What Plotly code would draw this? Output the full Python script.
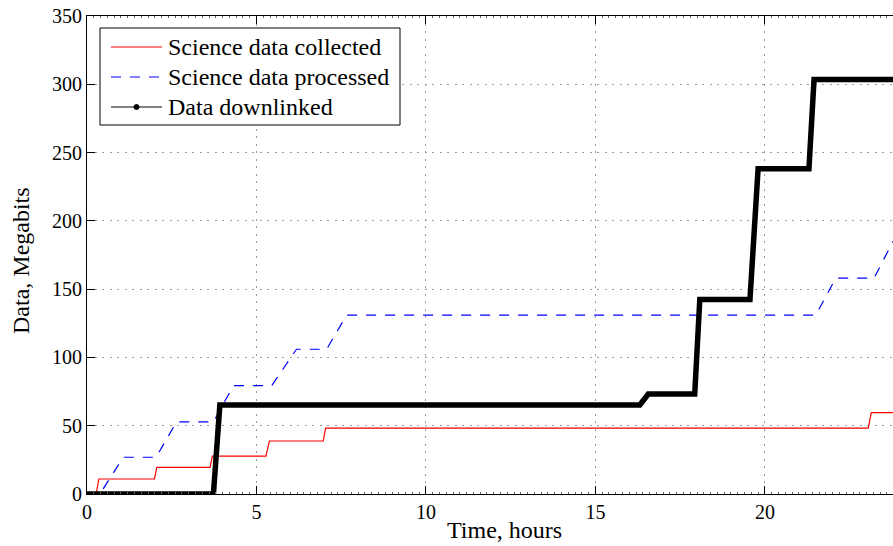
import plotly.graph_objects as go

# Time axis (hours) and cumulative data volumes (Megabits)
t_collected = [0, 0.27, 0.35, 1.99, 2.06, 3.63, 3.70, 5.28, 5.38, 6.97, 7.04, 23.05, 23.14, 23.78]
v_collected = [0, 0, 11, 11, 19.5, 19.5, 27.8, 27.8, 38.8, 38.8, 48.2, 48.2, 59.6, 59.6]

t_processed = [0, 0.38, 1.07, 2.04, 2.64, 3.73, 4.32, 5.45, 6.18, 7.07, 7.66, 21.50, 22.09, 23.22, 23.78]
v_processed = [0, 0, 26.9, 26.9, 52.8, 52.8, 79.3, 79.3, 106, 106, 131, 131, 158, 158, 185]

t_downlinked = [0, 3.73, 3.92, 16.31, 16.56, 17.93, 18.08, 19.56, 19.80, 21.30, 21.45, 23.78]
v_downlinked = [0, 0, 65.2, 65.2, 73.2, 73.2, 142.5, 142.5, 238.2, 238.2, 303.5, 303.5]

series_names = ["Science data collected", "Science data processed", "Data downlinked"]

x_ticks = [0, 5, 10, 15, 20]
y_ticks = [0, 50, 100, 150, 200, 250, 300, 350]

FONT = "Liberation Serif"
W, H = 893, 546
L, R, T, B = 87, 0, 16, 52


def px_x(p):
    """Pixel column -> paper x."""
    return (p - L) / (W - L - R)


def px_y(p):
    """Pixel row -> paper y."""
    return (H - B - p) / (H - T - B)


styles = [
    dict(color="#ff0000", width=1.2, dash="solid"),
    dict(color="#0000ff", width=1.2, dash="10px,9px"),
    dict(color="#000000", width=5.5, dash="solid"),
]

fig = go.Figure()
for name, xs, ys, st in zip(series_names,
                            [t_collected, t_processed, t_downlinked],
                            [v_collected, v_processed, v_downlinked],
                            styles):
    fig.add_trace(go.Scatter(x=xs, y=ys, mode="lines", name=name,
                             showlegend=False, line=st))

grid = dict(showgrid=True, gridcolor="#9a9a9a", gridwidth=1, griddash="2px,5.5px")

fig.update_xaxes(
    range=[0, 23.78], tickvals=x_ticks, ticktext=[str(v) for v in x_ticks],
    ticks="inside", ticklen=8, tickcolor="black",
    showline=True, linecolor="black", linewidth=1, mirror="ticks",
    zeroline=False, tickfont=dict(family=FONT, size=20, color="black"),
    minor=dict(ticks="inside", ticklen=2, dtick=0.2, tickcolor="#666666", showgrid=False),
    **grid,
)
fig.update_yaxes(
    range=[0, 350], tickvals=y_ticks, ticktext=[str(v) for v in y_ticks],
    ticks="inside", ticklen=8, tickcolor="black",
    showline=True, linecolor="black", linewidth=1,
    zeroline=False, tickfont=dict(family=FONT, size=20, color="black"),
    **grid,
)

# Legend box drawn in paper coordinates
box = dict(x0=100, x1=400, y0=28, y1=125)
row_y = [47, 77, 107]
key_x0, key_x1, text_x = 111, 162, 166

shapes = [dict(type="rect", xref="paper", yref="paper",
               x0=px_x(box["x0"]), x1=px_x(box["x1"]),
               y0=px_y(box["y1"]), y1=px_y(box["y0"]),
               line=dict(color="black", width=1), fillcolor="white", layer="above")]
annotations = []
for name, ry, st in zip(series_names, row_y, styles):
    shapes.append(dict(type="line", xref="paper", yref="paper",
                       x0=px_x(key_x0), x1=px_x(key_x1), y0=px_y(ry), y1=px_y(ry),
                       line=dict(color=st["color"], width=1.2 if st["width"] < 2 else 1,
                                 dash=st["dash"]),
                       layer="above"))
    annotations.append(dict(text=name, xref="paper", yref="paper",
                            x=px_x(text_x), y=px_y(ry), xanchor="left", yanchor="middle",
                            showarrow=False,
                            font=dict(family=FONT, size=24, color="black")))
# dot marker on the downlink key
cx = (key_x0 + key_x1) / 2
shapes.append(dict(type="circle", xref="paper", yref="paper",
                   x0=px_x(cx - 2.5), x1=px_x(cx + 2.5),
                   y0=px_y(row_y[2] + 2.5), y1=px_y(row_y[2] - 2.5),
                   line=dict(color="black", width=1), fillcolor="black", layer="above"))

annotations += [
    dict(text="Time, hours", xref="paper", yref="paper",
         x=px_x(504), y=px_y(530), xanchor="center", yanchor="middle",
         showarrow=False, font=dict(family=FONT, size=24, color="black")),
    dict(text="Data, Megabits", xref="paper", yref="paper",
         x=px_x(21), y=px_y(261), xanchor="center", yanchor="middle",
         textangle=-90, showarrow=False,
         font=dict(family=FONT, size=24, color="black")),
]

fig.update_layout(
    width=W, height=H,
    margin=dict(l=L, r=R, t=T, b=B),
    paper_bgcolor="white", plot_bgcolor="white",
    font=dict(family=FONT, color="black"),
    showlegend=False,
    shapes=shapes,
    annotations=annotations,
)

fig.write_html("out.html")
